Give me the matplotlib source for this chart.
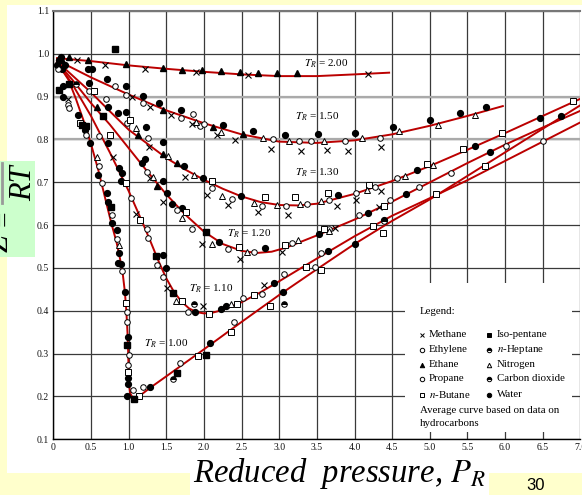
import matplotlib
matplotlib.use('Agg')
import matplotlib.pyplot as plt
from matplotlib.patches import Rectangle
from matplotlib.lines import Line2D

plt.rcParams['mathtext.fontset'] = 'stix'
SERIF = 'Liberation Serif'

# ---- average curves (reduced pressure, Z) ----
tr_names = ['2.00', '1.50', '1.30', '1.20', '1.10', '1.00']
tr10_x = [0.05, 0.2, 0.3, 0.4, 0.5, 0.6, 0.7, 0.77, 0.84, 0.88, 0.92, 0.95, 0.97, 0.985, 0.995, 1.0, 1.005,
          1.02, 1.05, 1.08, 1.15, 1.3, 1.5, 2.0, 2.5, 3.0, 3.5, 4.0, 4.5, 5.0, 5.5, 6.0, 6.5, 7.0]
tr10_z = [0.98, 0.94, 0.895, 0.845, 0.79, 0.727, 0.655, 0.605, 0.56, 0.527, 0.49, 0.445, 0.4, 0.35, 0.3, 0.26, 0.23,
          0.208, 0.198, 0.196, 0.202, 0.222, 0.247, 0.31, 0.374, 0.437, 0.497, 0.556, 0.61, 0.66, 0.715, 0.77, 0.825, 0.88]
tr11_x = [0.05, 0.25, 0.5, 0.75, 1.0, 1.1, 1.2, 1.3, 1.4, 1.5, 1.6, 1.7, 1.8, 1.9, 2.0, 2.1, 2.25, 2.5, 2.75,
          3.0, 3.5, 4.0, 4.5, 5.0, 5.5, 6.0, 6.5, 7.0]
tr11_z = [0.98, 0.93, 0.855, 0.77, 0.68, 0.64, 0.6, 0.558, 0.515, 0.476, 0.445, 0.422, 0.406, 0.397, 0.394, 0.395,
          0.402, 0.42, 0.443, 0.469, 0.522, 0.574, 0.622, 0.663, 0.705, 0.75, 0.795, 0.84]
tr12_x = [0.05, 0.25, 0.5, 0.75, 1.0, 1.25, 1.5, 1.75, 2.0, 2.25, 2.5, 2.7, 2.9, 3.1, 3.5, 4.0, 4.5, 5.0, 5.5,
          6.0, 6.5, 7.0]
tr12_z = [0.98, 0.94, 0.885, 0.835, 0.78, 0.725, 0.672, 0.625, 0.585, 0.556, 0.54, 0.535, 0.538, 0.548, 0.576,
          0.613, 0.655, 0.70, 0.745, 0.788, 0.828, 0.867]
tr13_x = [0.05, 0.25, 0.5, 0.75, 1.0, 1.25, 1.5, 1.75, 2.0, 2.25, 2.5, 2.75, 3.0, 3.25, 3.5, 4.0, 4.5, 5.0, 5.5,
          6.0, 6.5, 7.0]
tr13_z = [0.982, 0.95, 0.91, 0.866, 0.823, 0.79, 0.757, 0.73, 0.706, 0.685, 0.667, 0.654, 0.647, 0.646, 0.65,
          0.673, 0.703, 0.738, 0.776, 0.815, 0.855, 0.895]
tr15_x = [0.05, 0.5, 1.0, 1.5, 2.0, 2.5, 3.0, 3.5, 4.0, 4.5, 5.0, 5.5, 5.97]
tr15_z = [0.985, 0.945, 0.905, 0.868, 0.838, 0.812, 0.795, 0.792, 0.798, 0.812, 0.832, 0.855, 0.878]
tr20_x = [0.05, 0.5, 1.0, 1.5, 2.0, 2.5, 3.0, 3.5, 4.0, 4.46]
tr20_z = [0.99, 0.983, 0.973, 0.965, 0.958, 0.952, 0.948, 0.948, 0.952, 0.956]

# ---- measured data points ----
water = [(0.05, 0.975), (0.08, 0.985), (0.1, 0.993), (0.12, 0.965), (0.15, 0.975),
         (0.466, 0.965), (0.51, 0.965), (0.478, 0.933), (0.709, 0.941), (0.965, 0.925), (1.195, 0.902),
         (1.41, 0.885), (1.696, 0.869), (2.258, 0.834), (2.656, 0.82), (3.077, 0.811), (3.52, 0.812),
         (4.007, 0.816), (4.515, 0.828), (5.0, 0.846), (5.406, 0.861), (5.75, 0.875),
         (0.722, 0.877), (0.855, 0.861), (0.961, 0.865), (1.227, 0.829), (1.461, 0.795), (1.74, 0.737),
         (1.987, 0.71), (2.494, 0.667), (3.783, 0.671), (4.835, 0.729), (5.603, 0.784),
         (0.125, 0.925), (0.133, 0.90), (0.324, 0.857), (0.42, 0.822), (0.487, 0.791), (1.218, 0.754),
         (1.174, 0.746), (1.46, 0.702), (1.505, 0.676), (1.572, 0.649), (1.713, 0.64), (2.194, 0.561),
         (2.818, 0.546), (3.522, 0.579), (4.176, 0.628), (4.683, 0.673), (5.794, 0.77), (6.458, 0.85),
         (6.749, 0.856),
         (0.731, 0.791), (0.873, 0.733), (0.917, 0.721), (0.895, 0.702), (1.453, 0.531), (1.493, 0.50),
         (1.882, 0.397), (2.233, 0.405), (2.292, 0.411), (2.937, 0.464), (3.65, 0.54), (4.388, 0.612),
         (0.59, 0.717), (0.709, 0.674), (0.731, 0.655), (0.784, 0.605), (0.85, 0.589), (0.877, 0.536),
         (0.864, 0.511), (0.899, 0.509), (0.952, 0.443), (0.987, 0.34), (0.991, 0.243), (0.991, 0.228),
         (0.974, 0.20), (1.284, 0.223), (2.086, 0.325), (3.045, 0.444), (4.009, 0.556)]
ethylene = [(0.06, 0.965), (0.82, 0.926), (0.965, 0.904), (1.195, 0.885), (1.696, 0.851), (1.85, 0.859),
            (1.95, 0.832), (2.005, 0.836), (2.913, 0.80), (3.263, 0.797), (3.418, 0.797), (3.874, 0.797),
            (4.34, 0.803), (0.478, 0.914), (0.696, 0.895), (0.983, 0.839), (1.262, 0.804), (1.24, 0.723),
            (1.638, 0.636), (1.846, 0.591), (2.105, 0.687), (2.376, 0.662), (2.774, 0.644), (3.094, 0.644),
            (3.365, 0.649), (3.66, 0.659), (4.014, 0.676), (4.27, 0.689), (4.565, 0.71), (6.006, 0.785)]
propane = [(0.199, 0.881), (0.213, 0.873), (0.434, 0.811), (0.611, 0.807), (0.603, 0.737), (0.642, 0.699),
           (0.784, 0.624), (0.842, 0.567), (0.908, 0.492), (0.974, 0.398), (0.974, 0.375), (1.01, 0.297),
           (0.987, 0.274), (1.054, 0.214), (1.187, 0.222), (1.683, 0.278), (2.4, 0.373),
           (1.028, 0.663), (1.24, 0.591), (1.262, 0.57), (1.373, 0.507), (1.453, 0.479), (1.793, 0.397),
           (2.523, 0.429), (2.774, 0.44), (3.06, 0.486), (3.473, 0.502), (3.561, 0.534), (4.063, 0.624),
           (2.317, 0.544), (2.661, 0.537), (3.168, 0.558), (3.66, 0.592), (4.471, 0.659), (4.85, 0.69),
           (5.283, 0.721), (6.498, 0.797)]
ethane = [(0.12, 0.985), (0.21, 0.992), (0.46, 0.986), (0.967, 0.976), (1.453, 0.968), (1.713, 0.962),
          (1.97, 0.962), (2.223, 0.96), (2.48, 0.958), (2.72, 0.956), (2.975, 0.955), (3.23, 0.955),
          (1.46, 0.869), (2.117, 0.828), (2.523, 0.812), (0.576, 0.877), (1.129, 0.811), (1.46, 0.766),
          (1.638, 0.745), (1.373, 0.692)]
methane = [(0.07, 0.975), (0.315, 0.986), (0.69, 0.974), (1.218, 0.965), (1.891, 0.958), (2.58, 0.951),
           (4.175, 0.953), (1.04, 0.90), (1.284, 0.877), (1.56, 0.857), (1.846, 0.836), (2.17, 0.81),
           (2.413, 0.799), (2.89, 0.778), (3.29, 0.774), (3.63, 0.776), (3.918, 0.774), (4.35, 0.782),
           (1.275, 0.783), (1.749, 0.713), (2.046, 0.671), (2.317, 0.648), (2.72, 0.631), (3.119, 0.624),
           (3.768, 0.645), (4.014, 0.659), (4.358, 0.68), (1.284, 0.71), (1.46, 0.654), (1.972, 0.555),
           (2.474, 0.521), (3.04, 0.537), (3.743, 0.594), (4.324, 0.642), (0.797, 0.76), (1.098, 0.626),
           (1.506, 0.453), (1.982, 0.411), (2.799, 0.46), (0.2, 0.895)]
butane = [(0.545, 0.914), (1.019, 0.846), (0.355, 0.839), (0.753, 0.811), (0.961, 0.699), (1.151, 0.612),
          (1.762, 0.63), (2.105, 0.702), (2.809, 0.665), (3.212, 0.665), (3.645, 0.675), (4.186, 0.694),
          (4.963, 0.743), (5.44, 0.778), (5.957, 0.815), (6.906, 0.891), (2.464, 0.55), (3.079, 0.554),
          (3.596, 0.591), (4.388, 0.644), (1.705, 0.422), (2.071, 0.393), (2.44, 0.417), (2.671, 0.436),
          (2.873, 0.411), (4.24, 0.597), (4.383, 0.582), (5.076, 0.673), (5.735, 0.739), (0.961, 0.418),
          (0.987, 0.258), (1.142, 0.202), (1.926, 0.295), (2.356, 0.35), (3.36, 0.502), (3.551, 0.496)]
isopentane = [(0.817, 1.011), (0.08, 0.916), (0.21, 0.93), (0.386, 0.834), (0.434, 0.832), (0.656, 0.855),
              (0.766, 0.643), (2.022, 0.584), (1.36, 0.527), (1.594, 0.441), (0.983, 0.32), (1.072, 0.194),
              (1.647, 0.255), (2.022, 0.296)]
heptane = [(1.868, 0.416), (3.06, 0.416), (4.39, 0.61)]
co2 = [(1.594, 0.24), (0.3, 0.93)]
nitrogen = [(1.90, 0.842), (2.223, 0.818), (2.789, 0.803), (3.134, 0.797), (3.595, 0.797), (4.096, 0.804),
            (4.585, 0.82), (5.11, 0.834), (5.6, 0.858), (1.098, 0.826), (1.527, 0.762), (1.868, 0.717),
            (2.243, 0.669), (2.661, 0.652), (2.966, 0.648), (3.276, 0.65), (3.551, 0.656), (4.161, 0.681),
            (4.668, 0.714), (5.037, 0.741), (1.328, 0.712), (1.713, 0.616), (2.105, 0.556), (2.573, 0.537),
            (3.256, 0.565), (3.66, 0.586), (1.63, 0.423), (2.366, 0.416), (0.576, 0.758), (0.873, 0.554)]

x_ticks = [0, 0.5, 1.0, 1.5, 2.0, 2.5, 3.0, 3.5, 4.0, 4.5, 5.0, 5.5, 6.0, 6.5, 7.0]
x_ticklabels = ['0', '0.5', '1.0', '1.5', '2.0', '2.5', '3.0', '3.5', '4.0', '4.5', '5.0', '5.5', '6.0', '6.5', '7.0']
y_ticks = [0.1, 0.2, 0.3, 0.4, 0.5, 0.6, 0.7, 0.8, 0.9, 1.0, 1.1]

W, H = 582, 495
def fx(p): return p / W
def fy(p): return 1 - p / H

fig = plt.figure(figsize=(W / 100, H / 100), dpi=100, facecolor='#FFFFCC')

# slide panels
fig.patches.append(Rectangle((fx(7), fy(473)), 1 - fx(7), fy(5) - fy(473), transform=fig.transFigure,
                             fc='white', ec='none', zorder=-3))
fig.patches.append(Rectangle((0, fy(257)), fx(35), fy(161) - fy(257), transform=fig.transFigure,
                             fc='#CCFFCC', ec='none', zorder=-2))
fig.patches.append(Rectangle((fx(190), 0), fx(489) - fx(190), fy(453), transform=fig.transFigure,
                             fc='white', ec='none', zorder=-2))

# y label fragment: Z = Pv/RT (mostly hidden behind the chart)
fig.text(fx(31), fy(183), 'RT', rotation=90, rotation_mode='anchor', ha='center', va='baseline',
         family=SERIF, style='italic', fontsize=22)
fig.lines.append(Line2D([fx(2), fx(2)], [fy(163), fy(203)], transform=fig.transFigure, color='#999999', lw=2))
fig.text(fx(12), fy(218), '=', rotation=90, rotation_mode='anchor', ha='center', va='baseline',
         family=SERIF, fontsize=20)
fig.text(fx(8), fy(243), 'Z', rotation=90, rotation_mode='anchor', ha='center', va='baseline',
         family=SERIF, style='italic', fontsize=22)

# x label and page number
fig.text(fx(193), fy(482), 'Reduced  pressure, $P_R$', family=SERIF, style='italic', fontsize=23.5,
         ha='left', va='baseline')
fig.text(fx(536), fy(485), '30', family='Liberation Sans', fontsize=12, ha='center', va='center')

ax = fig.add_axes([fx(53.3), fy(439.3), fx(580.4) - fx(53.3), fy(11) - fy(439.3)])
ax.set_xlim(0, 7.0)
ax.set_ylim(0.1, 1.1)
ax.set_axisbelow(True)
ax.set_xticks(x_ticks)
ax.set_xticklabels(x_ticklabels)
ax.set_yticks(y_ticks)
ax.set_yticklabels(['%.1f' % v for v in y_ticks])
ax.tick_params(length=0, pad=3, labelsize=7, labelcolor='#111111')
for lab in ax.get_xticklabels() + ax.get_yticklabels():
    lab.set_family(SERIF)
ax.grid(True, color='#3a3a3a', lw=0.9)
for v in (0.8, 0.9):
    ax.axhline(v, color='#aaaaaa', lw=1.6, zorder=0.6)
for s in ('left', 'bottom'):
    ax.spines[s].set_color('black')
    ax.spines[s].set_linewidth(1.0)
ax.spines['top'].set_color('#777777')
ax.spines['top'].set_linewidth(1.5)
ax.spines['right'].set_visible(False)

# white legend area covering the grid
ax.add_patch(Rectangle((4.67, 0.1175), 2.22, 0.3475, fc='white', ec='none', zorder=1))

curves = [(tr20_x, tr20_z), (tr15_x, tr15_z), (tr13_x, tr13_z), (tr12_x, tr12_z), (tr11_x, tr11_z), (tr10_x, tr10_z)]
for cx, cz in curves:
    ax.plot(cx, cz, color='#BB0000', lw=1.4, zorder=2)

def pts(data, **kw):
    ax.plot([p[0] for p in data], [p[1] for p in data], ls='none', zorder=3, **kw)

pts(water, marker='o', ms=4.2, mfc='black', mec='black')
pts(ethylene, marker='o', ms=4.0, mfc='white', mec='black', mew=0.7)
pts(propane, marker='o', ms=4.0, mfc='white', mec='black', mew=0.7)
pts(ethane, marker='^', ms=4.4, mfc='black', mec='black')
pts(methane, marker='x', ms=3.8, mec='black', mew=0.8)
pts(butane, marker='s', ms=3.7, mfc='white', mec='black', mew=0.7)
pts(isopentane, marker='s', ms=3.7, mfc='black', mec='black')
pts(heptane, marker='o', ms=4.0, fillstyle='top', mfc='black', mfcalt='white', mec='black', mew=0.7)
pts(co2, marker='o', ms=4.0, fillstyle='top', mfc='black', mfcalt='white', mec='black', mew=0.7)
pts(nitrogen, marker='^', ms=4.4, mfc='white', mec='black', mew=0.7)

# curve labels
label_pos = [(3.62, 0.978), (3.5, 0.852), (3.5, 0.722), (2.6, 0.58), (2.1, 0.451), (1.5, 0.322)]
for name, (lx, ly) in zip(tr_names, label_pos):
    ax.text(lx, ly, '$T_R$ = ' + name, family=SERIF, fontsize=8, ha='center', va='center', zorder=4)

# legend
ax.text(4.87, 0.3975, 'Legend:', family=SERIF, fontsize=7.8, ha='left', va='center', zorder=4)
legend_left = [('Methane', dict(marker='x', mfc='black')), ('Ethylene', dict(marker='o', mfc='white')),
               ('Ethane', dict(marker='^', mfc='black')), ('Propane', dict(marker='o', mfc='white')),
               ('$n$-Butane', dict(marker='s', mfc='white'))]
legend_right = [('Iso-pentane', dict(marker='s', mfc='black')),
                ('$n$-Heptane', dict(marker='o', fillstyle='top', mfc='black', mfcalt='white')),
                ('Nitrogen', dict(marker='^', mfc='white')),
                ('Carbon dioxide', dict(marker='o', fillstyle='top', mfc='black', mfcalt='white')),
                ('Water', dict(marker='o', mfc='black'))]
rows = [0.344, 0.309, 0.274, 0.241, 0.204]
for col, mx, tx in ((legend_left, 4.896, 4.99), (legend_right, 5.786, 5.892)):
    for (name, mk), ry in zip(col, rows):
        ax.plot([mx], [ry], ls='none', ms=3.2, mec='black', mew=0.7, zorder=4, **mk)
        ax.text(tx, ry, name, family=SERIF, fontsize=7.8, ha='left', va='center', zorder=4)
ax.text(4.87, 0.1665, 'Average curve based on data on', family=SERIF, fontsize=7.8, ha='left', va='center', zorder=4)
ax.text(4.87, 0.136, 'hydrocarbons', family=SERIF, fontsize=7.8, ha='left', va='center', zorder=4)

fig.savefig('out.png', dpi=100, facecolor=fig.get_facecolor())
